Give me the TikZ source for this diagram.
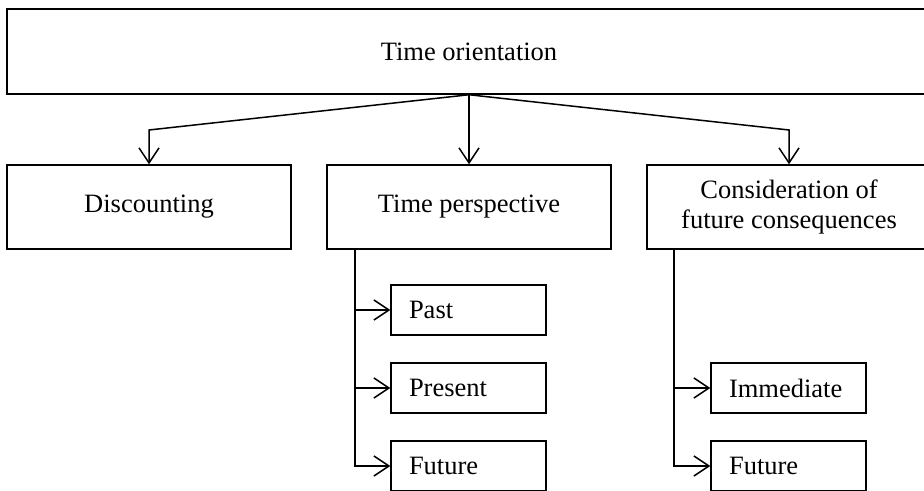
\documentclass[tikz,border=0pt]{standalone}
\usepackage{fontspec}
\setmainfont{Liberation Serif}
\usepackage{tikz}
\usetikzlibrary{arrows.meta}

\begin{document}
\begin{tikzpicture}[x=0.4pt, y=-0.4pt, >={Straight Barb[length=6pt, width=8pt]}, semithick,
		every node/.style={font=\fontsize{10.6}{11.8}\selectfont},
		topbox/.style={draw, rectangle, minimum width=369.6pt, minimum height=34pt, inner sep=0pt},
		mainbox/.style={draw, rectangle, minimum width=113.6pt, minimum height=33.6pt, inner sep=0pt, align=center},
		subbox/.style={draw, rectangle, minimum height=20pt, text width=47.6pt, inner xsep=7.2pt, inner ysep=0pt, align=left}]
		\useasboundingbox (0, 0) rectangle (924, 491);

		\node[topbox]		(top)	at (469, 51.5) {Time orientation};
		\node[mainbox]		(disc)	at (149, 207) {Discounting};
		\node[mainbox]		(tp)	at (469, 207) {Time perspective};
		\node[mainbox]		(cfc)	at (789, 207) {Consideration of\\future consequences};
		\node[subbox]		(past)	at (468.5, 310) {Past};
		\node[subbox]		(pres)	at (468.5, 388) {Present};
		\node[subbox]		(fut)	at (468.5, 466) {Future};
		\node[subbox]		(imm)	at (788.5, 388) {Immediate};
		\node[subbox]		(fut2)	at (788.5, 466) {Future};

		\coordinate (bendL) at (149, 130);
		\coordinate (bendR) at (789, 130);
		\coordinate (tpTrunk) at (355, 249);
		\coordinate (cfcTrunk) at (674, 249);

		\draw[->] (top.south) -- (bendL) -- (disc.north);
		\draw[->] (top.south) -- (tp.north);
		\draw[->] (top.south) -- (bendR) -- (cfc.north);

		\draw[->] (tpTrunk) |- (past.west);
		\draw[->] (tpTrunk) |- (pres.west);
		\draw[->] (tpTrunk) |- (fut.west);
		\draw[->] (cfcTrunk) |- (imm.west);
		\draw[->] (cfcTrunk) |- (fut2.west);
	\end{tikzpicture}
\end{document}
